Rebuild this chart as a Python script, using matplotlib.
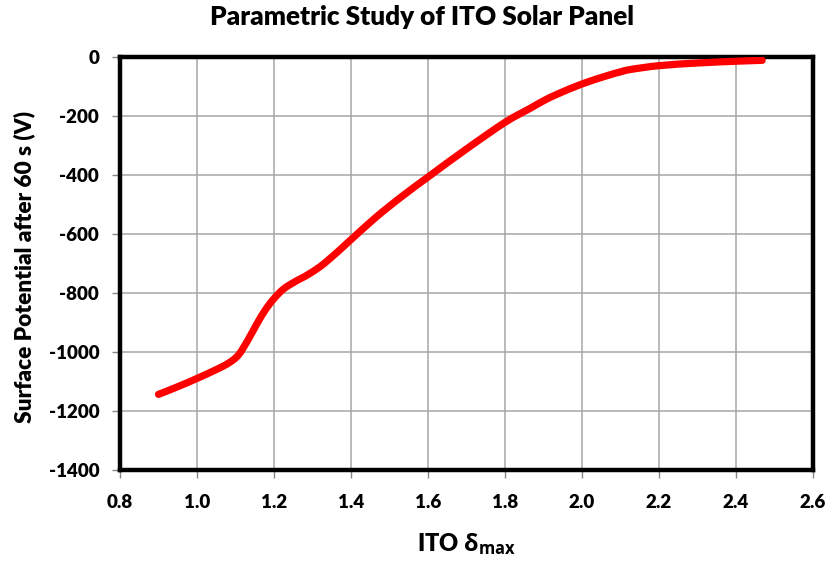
import matplotlib
matplotlib.use("Agg")
import matplotlib.pyplot as plt
from matplotlib.path import Path
from matplotlib.patches import PathPatch
import numpy as np

# Data
ito_delta = [0.9, 0.95, 1.0, 1.05, 1.082, 1.108, 1.134, 1.156, 1.177, 1.199,
             1.225, 1.255, 1.29, 1.333, 1.4, 1.465, 1.53, 1.6, 1.7, 1.8,
             1.866, 1.9, 1.935, 2.0, 2.065, 2.1, 2.126, 2.2, 2.3, 2.4, 2.468]
surface_potential = [-1144, -1118, -1090, -1060, -1038, -1010, -956, -904, -859, -821,
                     -787, -762, -737, -698, -620, -544, -476, -408, -313, -223,
                     -175, -150, -128, -93, -65, -52, -44, -31, -22, -16, -13]
x_ticks = [0.8, 1.0, 1.2, 1.4, 1.6, 1.8, 2.0, 2.2, 2.4, 2.6]
y_ticks = [0, -200, -400, -600, -800, -1000, -1200, -1400]

W = 'heavy'
plt.rcParams['font.family'] = ['Lato', 'DejaVu Sans']
plt.rcParams['font.weight'] = W
plt.rcParams['mathtext.fontset'] = 'custom'
plt.rcParams['mathtext.bf'] = 'Open Sans:bold'
plt.rcParams['mathtext.rm'] = 'Open Sans:bold'

fig = plt.figure(figsize=(8.37, 5.65), dpi=100)
ax = fig.add_axes([120/837, 1-470/565, (813-120)/837, (470-56.5)/565])

# Smoothed line (Excel-style smoothing: Catmull-Rom segments as cubic Beziers)
x = np.asarray(ito_delta, float)
y = np.asarray(surface_potential, float)
verts = [(x[0], y[0])]
codes = [Path.MOVETO]
n = len(x)
for i in range(n - 1):
    p0 = np.array([x[max(i - 1, 0)], y[max(i - 1, 0)]])
    p1 = np.array([x[i], y[i]])
    p2 = np.array([x[i + 1], y[i + 1]])
    p3 = np.array([x[min(i + 2, n - 1)], y[min(i + 2, n - 1)]])
    c1 = p1 + (p2 - p0) / 6.0
    c2 = p2 - (p3 - p1) / 6.0
    verts += [tuple(c1), tuple(c2), tuple(p2)]
    codes += [Path.CURVE4, Path.CURVE4, Path.CURVE4]
path = Path(verts, codes)
ax.add_patch(PathPatch(path, facecolor='none', edgecolor='#FF0000', linewidth=5.2,
                       capstyle='round', joinstyle='round', zorder=3))

ax.set_xlim(0.8, 2.6)
ax.set_ylim(-1400, 0)
ax.set_xticks(x_ticks)
ax.set_xticklabels([f"{v:.1f}" for v in x_ticks])
ax.set_yticks(y_ticks)
ax.set_yticklabels([str(v) for v in y_ticks])
ax.grid(True, color='#A6A6A6', linewidth=1.1, zorder=0)
ax.set_axisbelow(True)
for s in ax.spines.values():
    s.set_linewidth(3.2)
    s.set_color('black')
ax.tick_params(axis='both', direction='out', length=6, width=1, color='#888888',
               labelsize=13.5)
ax.tick_params(axis='y', pad=9)
ax.tick_params(axis='x', pad=11)
for lab in ax.get_xticklabels() + ax.get_yticklabels():
    lab.set_fontweight(W)

fig.text(422/837, 1 - 17/565, 'Parametric Study of ITO Solar Panel', fontsize=18.8,
         fontweight=W, ha='center', va='center')
ax.set_ylabel('Surface Potential after 60 s (V)', fontsize=16.3, fontweight=W, labelpad=1)
ax.yaxis.set_label_coords(-0.122, 0.49)
ax.set_xlabel(r'ITO $\mathbf{δ_{max}}$', fontsize=17, fontweight=W, labelpad=15)

fig.savefig('out.png', dpi=100)
